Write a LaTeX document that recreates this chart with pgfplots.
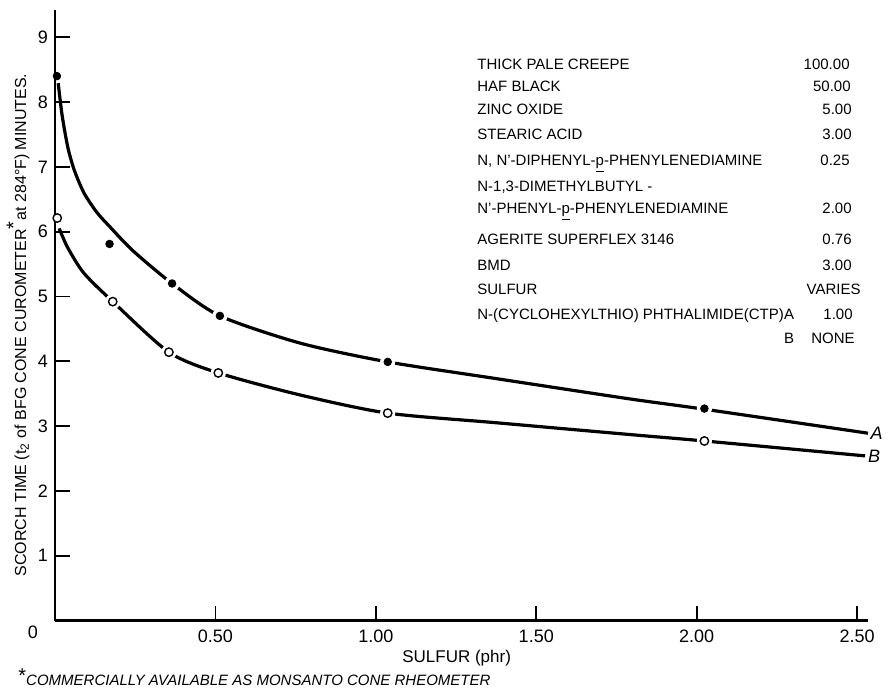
\documentclass[border=0pt]{standalone}
\usepackage{pgfplots}
\pgfplotsset{compat=1.18}
\usepackage{fontspec}
\setmainfont{Liberation Sans}
\newcommand{\tabfont}{\fontsize{7.5}{8}\selectfont}
\begin{document}
\begin{tikzpicture}
\useasboundingbox (0,0) rectangle (444.5pt,345.5pt);
\begin{axis}[
  at={(27.5pt,35.25pt)}, anchor=south west,
  width=406.5pt, height=305.25pt, scale only axis,
  xmin=0, xmax=2.534, ymin=0, ymax=9.42,
  axis lines=left,
  axis line style={line width=1.1pt,-},
  clip=false,
  tick align=inside,
  major tick length=7.5pt,
  every tick/.style={black, line width=0.9pt},
  xtick={0.5,1,1.5,2,2.5},
  ytick={1,2,3,4,5,6,7,8,9},
  xticklabel style={yshift=-1pt, /pgf/number format/.cd, fixed, fixed zerofill, precision=2, assume math mode=true},
  yticklabel style={/pgf/number format/assume math mode=true},
  ticklabel style={font=\fontsize{9}{10}\selectfont},
  xlabel={SULFUR (phr)},
  xlabel style={at={(axis description cs:0.494,-0.0615)}, anchor=center, font=\fontsize{8.5}{9}\selectfont},
  ylabel={SCORCH TIME (t\textsubscript{2} of BFG CONE CUROMETER\textsuperscript{\fontsize{10}{10}\selectfont *}at 284°F) MINUTES.},
  ylabel style={at={(axis description cs:-0.0455,0.484)}, anchor=center, font=\fontsize{8}{9}\selectfont},
]
% curve A (with CTP)
\addplot[black, line width=1.6pt, smooth, tension=0.45] coordinates {
 (0.010,8.29) (0.022,7.80) (0.040,7.30) (0.060,6.95) (0.090,6.60) (0.130,6.30)
 (0.170,6.08) (0.244,5.70) (0.365,5.20) (0.514,4.70) (0.764,4.28) (1.037,3.99)
 (1.378,3.73) (1.79,3.42) (2.024,3.26) (2.534,2.89)};
% curve B (no CTP)
\addplot[black, line width=1.6pt, smooth, tension=0.45] coordinates {
 (0.013,6.05) (0.040,5.75) (0.090,5.36) (0.18,4.92) (0.355,4.14)
 (0.509,3.82) (0.764,3.48) (1.037,3.20) (1.378,3.05) (1.79,2.87) (2.024,2.77) (2.525,2.54)};
% white gaps round the points on the curves
\addplot[only marks, mark=*, mark size=3.6pt, white, mark options={fill=white, draw=white}] coordinates {
 (0.365,5.20) (0.514,4.70) (1.037,3.99) (2.024,3.27)
 (0.18,4.92) (0.355,4.14) (0.509,3.82) (1.037,3.20) (2.024,2.77)};
% A points
\addplot[only marks, mark=*, mark size=1.9pt, black] coordinates {
 (0.006,8.40) (0.17,5.81) (0.365,5.20) (0.514,4.70) (1.037,3.99) (2.024,3.27)};
% B points
\addplot[only marks, mark=*, mark size=2.1pt, mark options={fill=white, draw=black, line width=0.7pt}] coordinates {
 (0.007,6.21) (0.18,4.92) (0.355,4.14) (0.509,3.82) (1.037,3.20) (2.024,2.77)};
\node[anchor=west, inner sep=1pt, font=\fontsize{9}{10}\selectfont\itshape] at (axis cs:2.535,2.89) {A};
\node[anchor=west, inner sep=1pt, font=\fontsize{9}{10}\selectfont\itshape] at (axis cs:2.527,2.54) {B};
\end{axis}
% origin label
\node[font=\fontsize{9}{10}\selectfont] at (16.5pt,29.5pt) {0};
% recipe table
\begin{scope}[every node/.style={font=\tabfont, inner sep=0pt}]
\node[anchor=mid west] at (238.5pt,313.5pt) {THICK PALE CREEPE};
\node[anchor=mid west] at (238.5pt,302.5pt) {HAF BLACK};
\node[anchor=mid west] at (238.5pt,291pt) {ZINC OXIDE};
\node[anchor=mid west] at (238.5pt,278.5pt) {STEARIC ACID};
\node[anchor=mid west] at (238.5pt,265.5pt) {N, N'-DIPHENYL-\underline{p}-PHENYLENEDIAMINE};
\node[anchor=mid west] at (238.5pt,252.5pt) {N-1,3-DIMETHYLBUTYL -};
\node[anchor=mid west] at (238.5pt,241.5pt) {N'-PHENYL-\underline{p}-PHENYLENEDIAMINE};
\node[anchor=mid west] at (238.5pt,226pt) {AGERITE SUPERFLEX 3146};
\node[anchor=mid west] at (238.5pt,213pt) {BMD};
\node[anchor=mid west] at (238.5pt,201pt) {SULFUR};
\node[anchor=mid west] at (238.5pt,188.5pt) {N-(CYCLOHEXYLTHIO) PHTHALIMIDE(CTP)};
\node[anchor=mid] at (394.5pt,188.5pt) {A};
\node[anchor=mid] at (394.5pt,176.5pt) {B};
\node[anchor=mid east] at (425pt,313.5pt) {100.00};
\node[anchor=mid east] at (425.5pt,302.5pt) {50.00};
\node[anchor=mid east] at (426pt,291pt) {5.00};
\node[anchor=mid east] at (426pt,278.5pt) {3.00};
\node[anchor=mid east] at (425pt,265.5pt) {0.25};
\node[anchor=mid east] at (426pt,241.5pt) {2.00};
\node[anchor=mid east] at (426pt,226pt) {0.76};
\node[anchor=mid east] at (426pt,213pt) {3.00};
\node[anchor=mid east] at (430.5pt,201pt) {VARIES};
\node[anchor=mid east] at (426.5pt,188.5pt) {1.00};
\node[anchor=mid east] at (427.5pt,176.5pt) {NONE};
\end{scope}
% footnote
\node[anchor=base west, inner sep=0pt, font=\fontsize{7.5}{8}\selectfont] at (9pt,2.5pt) {\raisebox{0.5ex}{\fontsize{10}{10}\selectfont *}\textit{COMMERCIALLY AVAILABLE AS MONSANTO CONE RHEOMETER}};
\end{tikzpicture}
\end{document}
